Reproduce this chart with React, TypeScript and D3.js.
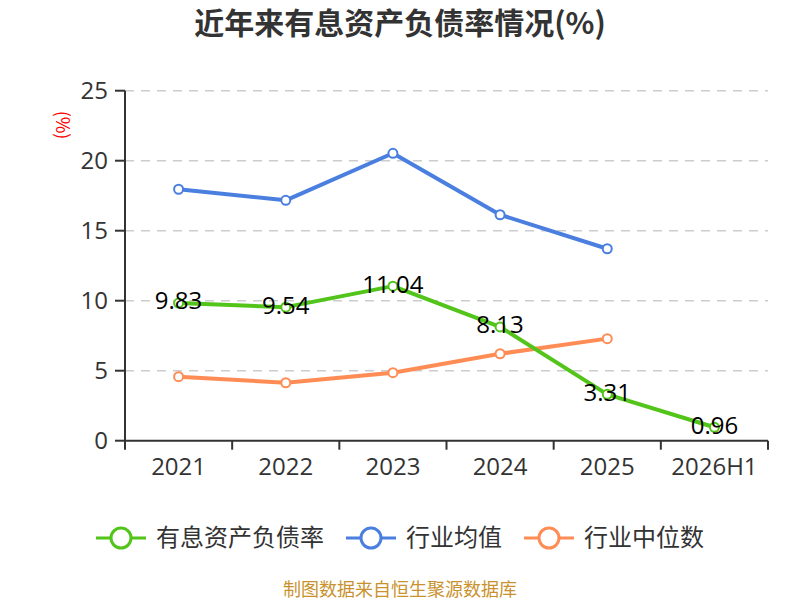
import * as d3 from "d3";

const categories = ["2021", "2022", "2023", "2024", "2025", "2026H1"];
const debtRatio = [9.83, 9.54, 11.04, 8.13, 3.31, 0.96];
const industryAvg = [17.96, 17.17, 20.53, 16.14, 13.71];
const industryMedian = [4.57, 4.14, 4.86, 6.21, 7.29];
const yTicks = [0, 5, 10, 15, 20, 25];

const seriesList = [
  { name: "有息资产负债率", values: debtRatio, color: "#52c41a" },
  { name: "行业均值", values: industryAvg, color: "#4a7fe0" },
  { name: "行业中位数", values: industryMedian, color: "#ff8c55" },
];

const WIDTH = 800;
const HEIGHT = 600;
const FONT = "'Noto Sans CJK SC', 'Noto Sans', sans-serif";
const NUM_FONT = "'Open Sans', 'Noto Sans CJK SC', sans-serif";

const margin = { top: 90.7, right: 32, bottom: 159.3, left: 125 };

export default function App() {
  const innerW = WIDTH - margin.left - margin.right;
  const innerH = HEIGHT - margin.top - margin.bottom;

  const x = d3.scaleBand<string>().domain(categories).range([0, innerW]);
  const y = d3.scaleLinear().domain([0, 25]).range([innerH, 0]);
  const cx = (i: number) => (x(categories[i]) ?? 0) + x.bandwidth() / 2;

  const line = d3
    .line<number>()
    .x((_, i) => cx(i))
    .y((d) => y(d));

  // legend layout: icon 50, gap 10, text, item gap 22
  const legendFont = 24;
  const itemWidths = seriesList.map((s) => 50 + 10 + s.name.length * legendFont);
  const legendTotal = d3.sum(itemWidths) + 22 * (seriesList.length - 1);
  let cursor = WIDTH / 2 - legendTotal / 2;
  const legendItems = seriesList.map((s, i) => {
    const start = cursor;
    cursor += itemWidths[i] + 22;
    return { ...s, start };
  });

  return (
    <svg
      width={WIDTH}
      height={HEIGHT}
      style={{ position: "absolute", left: 0, top: 0, background: "#fff" }}
      fontFamily={FONT}
    >
      <text
        x={WIDTH / 2}
        y={34}
        textAnchor="middle"
        fontSize={30}
        fontWeight="bold"
        fill="#333"
      >
        近年来有息资产负债率情况(%)
      </text>

      <text
        transform={`translate(62, 125) rotate(90)`}
        textAnchor="middle"
        dy="0.35em"
        fontSize={18}
        fill="#ff0000"
      >
        (%)
      </text>

      <g transform={`translate(${margin.left}, ${margin.top})`}>
        {yTicks.slice(1).map((t) => (
          <line
            key={`g${t}`}
            x1={0}
            x2={innerW}
            y1={y(t)}
            y2={y(t)}
            stroke="#cccccc"
            strokeWidth={1.6}
            strokeDasharray="9 7"
          />
        ))}

        {yTicks.map((t) => (
          <g key={`y${t}`} transform={`translate(0, ${y(t)})`}>
            <line x1={-10} x2={0} stroke="#333" strokeWidth={2} />
            <text
              x={-17}
              dy="0.35em"
              textAnchor="end"
              fontSize={24}
              fontFamily={NUM_FONT}
              fill="#333"
            >
              {t}
            </text>
          </g>
        ))}
        <line x1={0} x2={0} y1={0} y2={innerH} stroke="#333" strokeWidth={2} />

        <line x1={0} x2={innerW} y1={innerH} y2={innerH} stroke="#333" strokeWidth={2} />
        {[...categories, null].map((c, i) => {
          const xp = c !== null ? x(c) ?? 0 : innerW;
          return (
            <line
              key={`xt${i}`}
              x1={xp}
              x2={xp}
              y1={innerH}
              y2={innerH + 9}
              stroke="#333"
              strokeWidth={2}
            />
          );
        })}
        {categories.map((c, i) => (
          <text
            key={`xl${c}`}
            x={cx(i)}
            y={innerH + 34}
            textAnchor="middle"
            fontSize={24}
            fontFamily={NUM_FONT}
            fill="#333"
          >
            {c}
          </text>
        ))}

        {seriesList
          .slice()
          .reverse()
          .map((s) => (
            <g key={s.name}>
              <path
                d={line(s.values) ?? ""}
                fill="none"
                stroke={s.color}
                strokeWidth={4}
                strokeLinejoin="round"
              />
              {s.values.map((v, i) => (
                <circle
                  key={i}
                  cx={cx(i)}
                  cy={y(v)}
                  r={4.5}
                  fill="#fff"
                  stroke={s.color}
                  strokeWidth={2}
                />
              ))}
            </g>
          ))}

        {debtRatio.map((v, i) => (
          <text
            key={`lab${i}`}
            x={cx(i)}
            y={y(v) - 2}
            dy="0.35em"
            textAnchor="middle"
            fontSize={24}
            fontFamily={NUM_FONT}
            fill="#000"
          >
            {v.toFixed(2)}
          </text>
        ))}
      </g>

      <g>
        {legendItems.map((s) => (
          <g key={`lg${s.name}`} transform={`translate(${s.start}, 538)`}>
            <line x1={0} x2={50} y1={0} y2={0} stroke={s.color} strokeWidth={3} />
            <circle cx={25} cy={0} r={10} fill="#fff" stroke={s.color} strokeWidth={3} />
            <text x={60} dy="0.35em" fontSize={legendFont} fill="#333">
              {s.name}
            </text>
          </g>
        ))}
      </g>

      <text
        x={WIDTH / 2}
        y={596}
        textAnchor="middle"
        fontSize={18}
        fill="#c9922e"
      >
        制图数据来自恒生聚源数据库
      </text>
    </svg>
  );
}
